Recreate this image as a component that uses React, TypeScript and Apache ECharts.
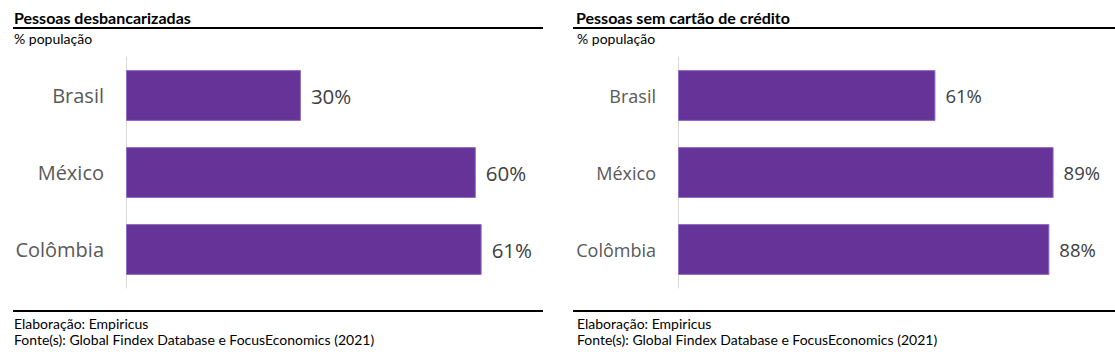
import React, { useEffect, useRef } from "react";
import * as echarts from "echarts";

const categories = ["Brasil", "México", "Colômbia"];
const unbankedValues = [30, 60, 61];
const noCreditCardValues = [61, 89, 88];

const leftTitle = "Pessoas desbancarizadas";
const rightTitle = "Pessoas sem cartão de crédito";
const subtitle = "% população";
const footer1 = "Elaboração: Empiricus";
const footer2 = "Fonte(s): Global Findex Database e FocusEconomics (2021)";

const BAR = "#663399";
const BAR_BORDER = "#8c6bc4";
const TITLE_FONT = "Lato, 'Noto Sans', sans-serif";
const AXIS_FONT = "'Open Sans', 'Noto Sans', sans-serif";

export default function App() {
  const ref = useRef<HTMLDivElement>(null);
  useEffect(() => {
    if (!ref.current) return;
    const chart = echarts.init(ref.current, undefined, { renderer: "svg" });

    const yAxisCommon = (gridIndex: number, size: number) => ({
      type: "category" as const,
      gridIndex,
      data: categories,
      inverse: true,
      axisLine: { show: true, lineStyle: { color: "#d9d9d9", width: 1 } },
      axisTick: { show: false },
      axisLabel: {
        margin: 22,
        fontSize: size,
        color: "#595959",
        fontFamily: AXIS_FONT,
      },
    });

    const xAxisCommon = (gridIndex: number, max: number) => ({
      type: "value" as const,
      gridIndex,
      min: 0,
      max,
      show: false,
      splitLine: { show: false },
    });

    const seriesCommon = (idx: number, data: number[], size: number) => ({
      type: "bar" as const,
      xAxisIndex: idx,
      yAxisIndex: idx,
      data,
      barCategoryGap: "34%",
      itemStyle: { color: BAR, borderColor: BAR_BORDER, borderWidth: 1 },
      label: {
        show: true,
        position: "right" as const,
        distance: 10,
        formatter: "{c}%",
        fontSize: size,
        color: "#404040",
        fontFamily: AXIS_FONT,
      },
    });

    const textStyle = (text: string, x: number, y: number, size: number, weight: string | number = "normal") => ({
      type: "text" as const,
      x,
      y,
      style: {
        text,
        fontSize: size,
        fontWeight: weight,
        fontFamily: TITLE_FONT,
        fill: "#000",
        textVerticalAlign: "top",
      },
    });

    const hLine = (x1: number, x2: number, y: number) => ({
      type: "line" as const,
      shape: { x1, y1: y, x2, y2: y },
      style: { stroke: "#000", lineWidth: 2 },
    });

    chart.setOption({
      animation: false,
      backgroundColor: "#fff",
      grid: [
        { left: 126, top: 57, width: 70 * 5.83, height: 231 },
        { left: 678, top: 57, width: 100 * 4.22, height: 231 },
      ],
      xAxis: [xAxisCommon(0, 70), xAxisCommon(1, 100)],
      yAxis: [yAxisCommon(0, 20), yAxisCommon(1, 18)],
      series: [
        seriesCommon(0, unbankedValues, 20.5),
        seriesCommon(1, noCreditCardValues, 18.5),
      ],
      graphic: [
        textStyle(leftTitle, 14, 9, 16, "bold"),
        textStyle(rightTitle, 576, 9, 16, "bold"),
        hLine(13, 543, 28),
        hLine(573, 1115, 28),
        textStyle(subtitle, 14, 31, 14),
        textStyle(subtitle, 577, 31, 14),
        hLine(13, 543, 311),
        hLine(573, 1115, 311),
        textStyle(footer1, 14, 316, 14),
        textStyle(footer2, 14, 332, 14),
        textStyle(footer1, 577, 316, 14),
        textStyle(footer2, 577, 332, 14),
      ],
    });
    return () => chart.dispose();
  }, []);
  return (
    <div
      ref={ref}
      style={{ position: "absolute", left: 0, top: 0, width: 1115, height: 362 }}
    />
  );
}
